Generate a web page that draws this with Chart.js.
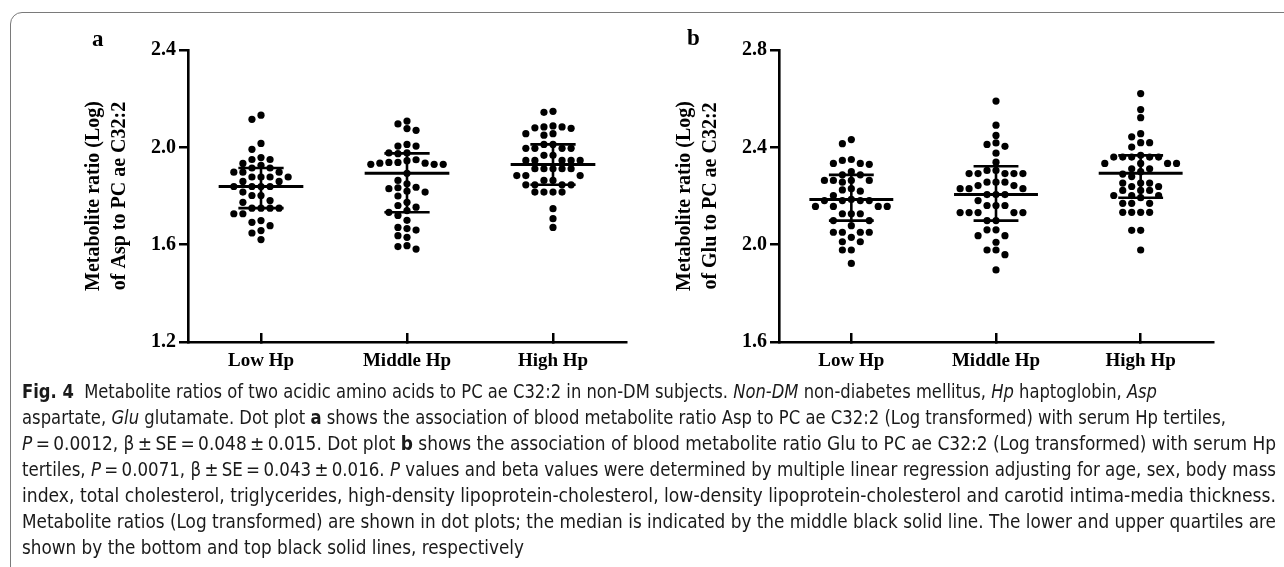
<!DOCTYPE html>
<html>
<head>
<meta charset="utf-8">
<script src="https://cdn.jsdelivr.net/npm/chart.js@4.4.1/dist/chart.umd.min.js"></script>
<style>
  html, body { margin: 0; padding: 0; background: #fff; }
  body { width: 1284px; height: 567px; position: relative; overflow: hidden; }
  #frame { position: absolute; left: 10px; top: 12px; width: 1320px; height: 620px;
           border: 1.5px solid #7a7a7a; border-radius: 12px; }
  .panel { position: absolute; top: 0; height: 385px; }
  #pa { left: 0; width: 640px; }
  #pb { left: 640px; width: 644px; }
  .tag { position: absolute; font: bold 23px "Liberation Serif", serif; color: #000; }
  #caption { position: absolute; left: 22px; top: 378px; color: #1a1a1a;
             font: 19px "Liberation Sans Narrow", "DejaVu Sans Condensed", "Open Sans", sans-serif; }
  #caption div { height: 26px; line-height: 26px; white-space: nowrap; }
  #caption span.l { display: inline-block; transform-origin: 0 50%; }
</style>
</head>
<body>
<div id="frame"></div>
<canvas id="pa" class="panel" width="640" height="385"></canvas>
<canvas id="pb" class="panel" width="644" height="385"></canvas>
<div class="tag" style="left:92px; top:26px;">a</div>
<div class="tag" style="left:687px; top:25px;">b</div>
<div id="caption">
  <div><span class="l"><b>Fig. 4</b>&nbsp; Metabolite ratios of two acidic amino acids to PC ae C32:2 in non-DM subjects. <i>Non-DM</i> non-diabetes mellitus, <i>Hp</i> haptoglobin, <i>Asp</i></span></div>
  <div><span class="l">aspartate, <i>Glu</i> glutamate. Dot plot <b>a</b> shows the association of blood metabolite ratio Asp to PC ae C32:2 (Log transformed) with serum Hp tertiles,</span></div>
  <div><span class="l"><i>P</i>&#8201;=&#8201;0.0012, β&#8201;±&#8201;SE&#8201;=&#8201;0.048&#8201;±&#8201;0.015. Dot plot <b>b</b> shows the association of blood metabolite ratio Glu to PC ae C32:2 (Log transformed) with serum Hp</span></div>
  <div><span class="l">tertiles, <i>P</i>&#8201;=&#8201;0.0071, β&#8201;±&#8201;SE&#8201;=&#8201;0.043&#8201;±&#8201;0.016. <i>P</i> values and beta values were determined by multiple linear regression adjusting for age, sex, body mass</span></div>
  <div><span class="l">index, total cholesterol, triglycerides, high-density lipoprotein-cholesterol, low-density lipoprotein-cholesterol and carotid intima-media thickness.</span></div>
  <div><span class="l">Metabolite ratios (Log transformed) are shown in dot plots; the median is indicated by the middle black solid line. The lower and upper quartiles are</span></div>
  <div><span class="l">shown by the bottom and top black solid lines, respectively</span></div>
</div>
<script>
const groups = ['Low Hp', 'Middle Hp', 'High Hp'];

// panel a: Asp to PC ae C32:2 (log)
const aspLow = [2.132, 2.115, 2.016, 1.992, 1.958, 1.950, 1.950, 1.934, 1.926, 1.915, 1.915, 1.898, 1.898, 1.898,
  1.878, 1.878, 1.878, 1.878, 1.860, 1.860, 1.839, 1.839, 1.839, 1.839, 1.816, 1.802, 1.802, 1.781, 1.774,
  1.750, 1.750, 1.750, 1.750, 1.727, 1.727, 1.699, 1.692, 1.678, 1.658, 1.648, 1.621];
const aspMiddle = [2.108, 2.096, 2.077, 2.070, 2.012, 2.005, 2.005, 1.977, 1.977, 1.974, 1.949, 1.945, 1.938, 1.938,
  1.935, 1.935, 1.930, 1.930, 1.930, 1.893, 1.864, 1.850, 1.836, 1.834, 1.830, 1.820, 1.816, 1.800, 1.774,
  1.761, 1.754, 1.740, 1.733, 1.720, 1.700, 1.671, 1.666, 1.660, 1.637, 1.630, 1.596, 1.592, 1.582];
const aspHigh = [2.148, 2.144, 2.088, 2.084, 2.084, 2.080, 2.078, 2.056, 2.056, 2.050, 2.012, 2.012, 1.996, 1.996,
  1.996, 1.996, 1.967, 1.967, 1.946, 1.946, 1.946, 1.946, 1.946, 1.912, 1.912, 1.912, 1.912, 1.912, 1.884,
  1.884, 1.884, 1.864, 1.864, 1.846, 1.846, 1.846, 1.846, 1.816, 1.816, 1.816, 1.816, 1.748, 1.707, 1.671];
const aspMedian = [1.839, 1.893, 1.929];
const aspUpper = [1.915, 1.975, 2.012];
const aspLower = [1.750, 1.733, 1.846];
const aspTicks = [1.2, 1.6, 2.0, 2.4];

// panel b: Glu to PC ae C32:2 (log)
const gluLow = [2.432, 2.415, 2.350, 2.346, 2.334, 2.334, 2.330, 2.300, 2.287, 2.287, 2.264, 2.264, 2.264, 2.264,
  2.257, 2.230, 2.225, 2.220, 2.202, 2.186, 2.181, 2.181, 2.181, 2.181, 2.157, 2.157, 2.157, 2.157, 2.127,
  2.127, 2.127, 2.099, 2.099, 2.078, 2.051, 2.051, 2.051, 2.051, 2.030, 2.012, 2.012, 1.978, 1.978, 1.923];
const gluMiddle = [2.590, 2.491, 2.449, 2.418, 2.412, 2.404, 2.376, 2.339, 2.305, 2.305, 2.292, 2.292, 2.292, 2.292,
  2.292, 2.257, 2.257, 2.257, 2.243, 2.243, 2.230, 2.230, 2.230, 2.206, 2.206, 2.206, 2.181, 2.161, 2.161,
  2.161, 2.132, 2.132, 2.132, 2.132, 2.132, 2.099, 2.099, 2.061, 2.061, 2.037, 2.037, 2.010, 1.978, 1.978,
  1.959, 1.896];
const gluHigh = [2.621, 2.555, 2.522, 2.456, 2.443, 2.419, 2.419, 2.401, 2.367, 2.360, 2.360, 2.360, 2.360, 2.360,
  2.334, 2.334, 2.334, 2.334, 2.312, 2.312, 2.300, 2.290, 2.280, 2.253, 2.253, 2.253, 2.239, 2.239, 2.223,
  2.223, 2.223, 2.202, 2.202, 2.202, 2.193, 2.170, 2.170, 2.170, 2.133, 2.133, 2.133, 2.133, 2.059, 2.059, 1.978];
const gluMedian = [2.186, 2.206, 2.294];
const gluUpper = [2.287, 2.322, 2.367];
const gluLower = [2.099, 2.099, 2.193];
const gluTicks = [1.6, 2.0, 2.4, 2.8];

const serif = 'Liberation Serif';

// spread dots sideways into columns so they don't overlap (like the GraphPad dot plot)
function swarm(values, center){
  const colGap = 0.062, minSep = 0.029;
  const placed = [];
  const sorted = values.slice().sort((a, b) => b - a);
  for (const v of sorted) {
    for (let k = 0; k < 30; k++) {
      const col = k === 0 ? 0 : (k % 2 ? -Math.ceil(k / 2) : Math.ceil(k / 2));
      if (!placed.some(p => p.col === col && Math.abs(p.y - v) < minSep)) {
        placed.push({col: col, y: v});
        break;
      }
    }
  }
  return placed.map(p => ({x: center + p.col * colGap, y: p.y}));
}

function seg(x1, y1, x2, y2, w){
  return {
    data: [{x: x1, y: y1}, {x: x2, y: y2}],
    showLine: true, borderColor: '#000', borderWidth: w,
    pointRadius: 0, fill: false
  };
}

function statLines(med, up, lo){
  let ds = [];
  med.forEach((m, i) => {
    ds.push(seg(i - 0.29, m, i + 0.29, m, 3));
    ds.push(seg(i - 0.155, up[i], i + 0.155, up[i], 2.6));
    ds.push(seg(i - 0.155, lo[i], i + 0.155, lo[i], 2.6));
    ds.push(seg(i, lo[i], i, up[i], 2.6));
  });
  return ds;
}

function make(id, sets, med, up, lo, ticks, title, geom){
  const dots = sets.map((vals, i) => ({
    data: swarm(vals, i),
    backgroundColor: '#000', borderWidth: 0, pointRadius: 3.6
  }));

  new Chart(document.getElementById(id), {
    type: 'scatter',
    data: {datasets: [...statLines(med, up, lo), ...dots]},
    options: {
      responsive: false,
      animation: false,
      devicePixelRatio: 1,
      layout: {padding: {left: 0, right: geom.right, top: 50, bottom: 0}},
      plugins: {legend: {display: false}, tooltip: {enabled: false}},
      scales: {
        x: {
          type: 'linear', min: -0.5, max: 2.5,
          afterBuildTicks: s => { s.ticks = groups.map((g, i) => ({value: i})); },
          afterFit: s => { s.height = 43; },
          grid: {drawOnChartArea: false, color: '#000', lineWidth: 2.5, tickLength: -9},
          border: {color: '#000', width: 2.6},
          ticks: {
            callback: v => groups[v], color: '#000', padding: 17,
            autoSkip: false, maxRotation: 0,
            font: {family: serif, size: 19, weight: 'bold'}
          }
        },
        y: {
          min: ticks[0], max: ticks[ticks.length - 1],
          afterBuildTicks: s => { s.ticks = ticks.map(v => ({value: v})); },
          afterFit: s => { s.width = geom.axis; },
          grid: {drawOnChartArea: false, color: '#000', lineWidth: 2.5, tickLength: 9},
          border: {color: '#000', width: 2.6},
          ticks: {
            callback: v => v.toFixed(1), color: '#000', padding: 3,
            font: {family: serif, size: 20, weight: 'bold'}
          },
          title: {
            display: true, text: title, color: '#000',
            padding: {top: geom.titlePad, bottom: 0},
            font: {family: serif, size: 20, weight: 'bold', lineHeight: 1.3}
          }
        }
      }
    }
  });
}

make('pa', [aspLow, aspMiddle, aspHigh], aspMedian, aspUpper, aspLower, aspTicks,
  ['Metabolite ratio (Log)', 'of Asp to PC ae C32:2'], {axis: 188, right: 14, titlePad: 81});
make('pb', [gluLow, gluMiddle, gluHigh], gluMedian, gluUpper, gluLower, gluTicks,
  ['Metabolite ratio (Log)', 'of Glu to PC ae C32:2'], {axis: 139, right: 71, titlePad: 32});

// the caption is set in a condensed face: squeeze each line to the width it has in the figure
const lineWidths = [1135, 1204, 1254, 1254, 1254, 1254, 502];
document.querySelectorAll('#caption span.l').forEach((el, i) => {
  const w = el.getBoundingClientRect().width;
  el.style.transform = 'scaleX(' + (lineWidths[i] / w) + ')';
});
</script>
</body>
</html>
